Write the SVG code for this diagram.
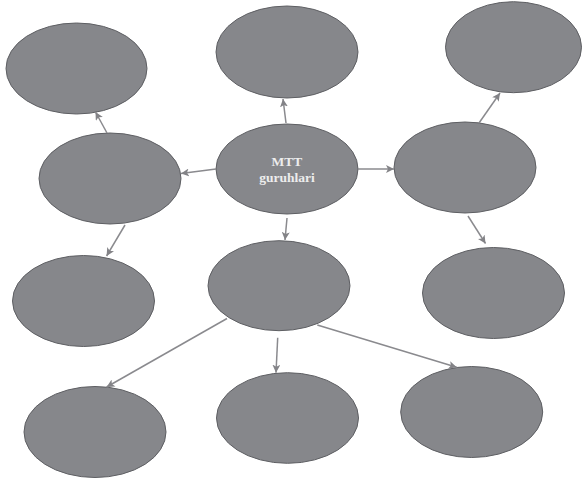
<svg xmlns="http://www.w3.org/2000/svg" width="582" height="479" viewBox="0 0 582 479">
<defs>
<marker id="ah" markerUnits="userSpaceOnUse" markerWidth="9" markerHeight="8" refX="8" refY="4" orient="auto">
<path d="M0,0 L8,4 L0,8 L2,4 Z" fill="#838387"/>
</marker>
<style>
.n{fill:#86878b;stroke:#5e5f63;stroke-width:1}
.c line{stroke:#8a8a8e;stroke-width:1.5;marker-end:url(#ah)}
.t{font-family:"Liberation Serif","Times New Roman",serif;font-weight:bold;font-size:13.5px;fill:#ededed;text-anchor:middle}
</style>
</defs>
<rect width="582" height="479" fill="#ffffff"/>
<g id="n-top-left"><ellipse class="n" cx="76.5" cy="68.5" rx="70.5" ry="45.5"/></g>
<g id="n-top-mid"><ellipse class="n" cx="287" cy="52" rx="71" ry="46"/></g>
<g id="n-top-right"><ellipse class="n" cx="513.5" cy="47.2" rx="68" ry="45.5"/></g>
<g id="n-left-mid"><ellipse class="n" cx="110" cy="178.5" rx="71" ry="45.5"/></g>
<g id="n-center"><ellipse class="n" cx="287" cy="169" rx="71" ry="45"/>
<text class="t" x="287" y="166">MTT</text>
<text class="t" x="287" y="182">guruhlari</text></g>
<g id="n-right-mid"><ellipse class="n" cx="465" cy="167.5" rx="71" ry="45.5"/></g>
<g id="n-lower-left"><ellipse class="n" cx="83.5" cy="301" rx="71" ry="45.5"/></g>
<g id="n-lower-center"><ellipse class="n" cx="279" cy="285.7" rx="71" ry="45"/></g>
<g id="n-lower-right"><ellipse class="n" cx="493.5" cy="293" rx="71" ry="45.5"/></g>
<g id="n-bottom-left"><ellipse class="n" cx="95" cy="432" rx="71" ry="45.5"/></g>
<g id="n-bottom-mid"><ellipse class="n" cx="287.5" cy="418" rx="71" ry="45.3"/></g>
<g id="n-bottom-right"><ellipse class="n" cx="471.7" cy="412" rx="71" ry="45.5"/></g>
<g id="connectors" class="c">
<line x1="286" y1="123" x2="283" y2="99"/>
<line x1="216" y1="169" x2="181" y2="173.5"/>
<line x1="107" y1="133" x2="95.5" y2="112"/>
<line x1="125" y1="225" x2="106.6" y2="256"/>
<line x1="358" y1="169" x2="394" y2="169"/>
<line x1="479" y1="123" x2="500" y2="93"/>
<line x1="468" y1="216" x2="485.5" y2="243.5"/>
<line x1="287" y1="218" x2="285" y2="240"/>
<line x1="227" y1="318.5" x2="106.6" y2="387"/>
<line x1="277.7" y1="337.7" x2="276" y2="372.7"/>
<line x1="317.3" y1="325" x2="456.7" y2="367.3"/>
</g>
</svg>
